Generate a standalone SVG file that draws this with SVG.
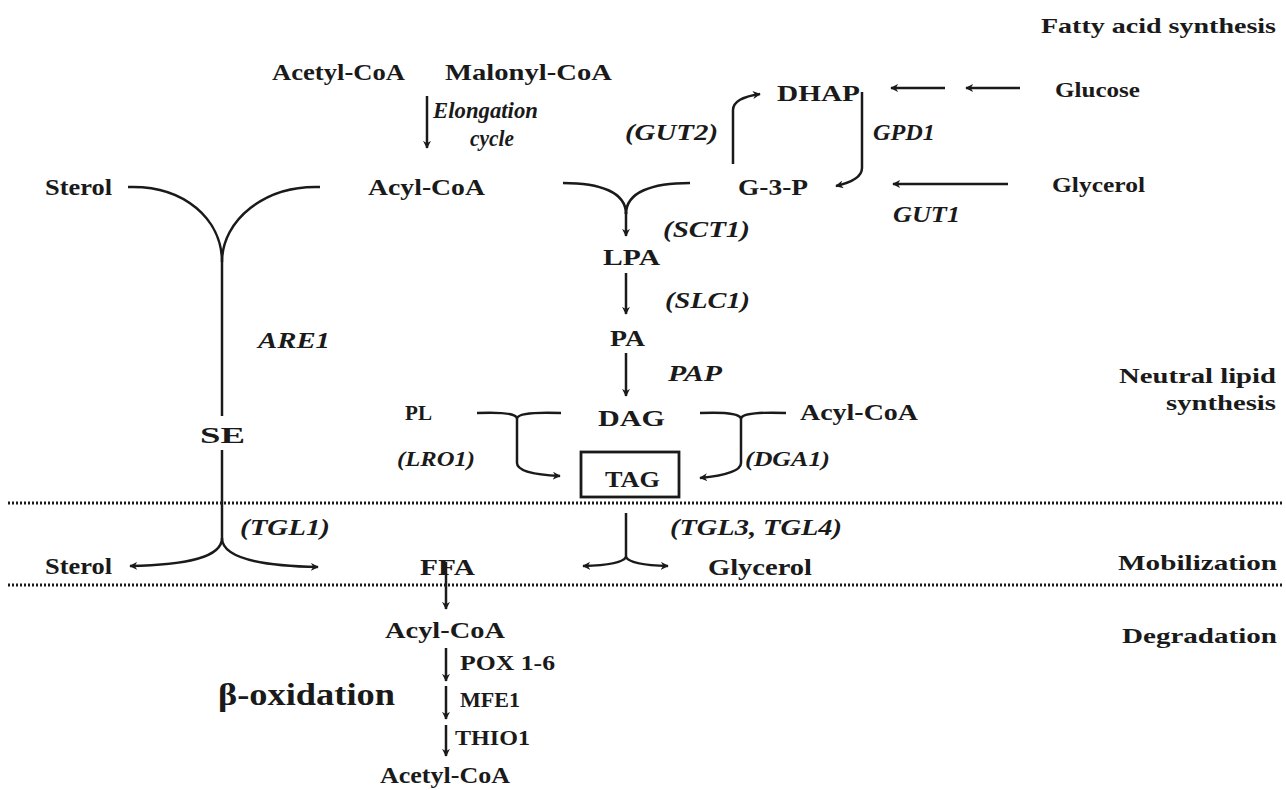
<svg xmlns="http://www.w3.org/2000/svg" width="1286" height="790" viewBox="0 0 1286 790">
<defs>
<marker id="ah" viewBox="0 0 10 10" refX="9" refY="5" markerWidth="8" markerHeight="8" orient="auto" markerUnits="userSpaceOnUse">
<path d="M0,0 L10,5 L0,10 L3,5 Z" fill="#1a1a1a"/>
</marker>
</defs>
<style>
text{font-family:"Liberation Serif","Times New Roman",serif;font-weight:bold;fill:#1a1a1a;}
.n{font-size:24px;}
.e{font-size:23px;font-style:italic;}
.s{font-size:21px;}
.r{font-size:22px;text-anchor:end;}
.c{stroke:#1a1a1a;stroke-width:2.5;fill:none;}
.a{stroke:#1a1a1a;stroke-width:2.5;fill:none;marker-end:url(#ah);}
.d{stroke:#1a1a1a;stroke-width:3;stroke-dasharray:2 2;fill:none;}
</style>
<rect width="1286" height="790" fill="#fff"/>

<g id="regions">
<line class="d" x1="8" y1="503" x2="1284" y2="503"/>
<line class="d" x1="8" y1="585" x2="1284" y2="585"/>
<text class="r" x="1276" y="33" textLength="235" lengthAdjust="spacingAndGlyphs">Fatty acid synthesis</text>
<text class="r" x="1276" y="383" textLength="157" lengthAdjust="spacingAndGlyphs">Neutral lipid</text>
<text class="r" x="1276" y="410" textLength="110" lengthAdjust="spacingAndGlyphs">synthesis</text>
<text class="r" x="1277" y="570" textLength="159" lengthAdjust="spacingAndGlyphs">Mobilization</text>
<text class="r" x="1277" y="643" textLength="155" lengthAdjust="spacingAndGlyphs">Degradation</text>
</g>

<g id="connectors">
<line class="a" x1="427" y1="96" x2="427" y2="148"/>
<line class="a" x1="945" y1="88" x2="891" y2="88"/>
<line class="a" x1="1020" y1="88" x2="966" y2="88"/>
<path class="a" d="M733,164 L733,110 Q733,98 760,94"/>
<path class="a" d="M862,92 L862,168 Q862,180 836,186"/>
<line class="a" x1="1008" y1="184" x2="893" y2="184"/>
<path class="c" d="M128,187 C185,185 222,220 222,262"/>
<path class="c" d="M320,187 C265,185 222,220 222,262"/>
<line class="c" x1="222" y1="262" x2="222" y2="416"/>
<line class="c" x1="222" y1="450" x2="222" y2="538"/>
<path class="a" d="M222,538 C222,558 185,565 130,566"/>
<path class="a" d="M222,538 C222,558 262,566 318,567"/>
<path class="c" d="M563,183 C600,183 626,192 626,214"/>
<path class="c" d="M690,183 C652,183 626,192 626,214"/>
<line class="a" x1="626" y1="212" x2="626" y2="236"/>
<line class="a" x1="626" y1="273" x2="626" y2="314"/>
<line class="a" x1="626" y1="353" x2="626" y2="396"/>
<path class="c" d="M477,413 C500,412 515,413 517,418 C519,413 535,412 561,413"/>
<path class="a" d="M517,418 L517,463 Q517,474 560,476"/>
<path class="c" d="M700,413 C722,412 738,413 741,418 C744,413 760,412 786,413"/>
<path class="a" d="M741,418 L741,463 Q741,474 700,478"/>
<line class="c" x1="626" y1="513" x2="626" y2="557"/>
<path class="a" d="M626,557 Q622,565 583,566"/>
<path class="a" d="M626,557 Q630,565 668,566"/>
<line class="a" x1="446" y1="562" x2="446" y2="609"/>
<line class="a" x1="446" y1="648" x2="446" y2="681"/>
<line class="a" x1="446" y1="686" x2="446" y2="719"/>
<line class="a" x1="446" y1="725" x2="446" y2="756"/>
</g>

<g id="acetylcoa-top"><text class="n" x="272" y="80" textLength="133" lengthAdjust="spacingAndGlyphs">Acetyl-CoA</text></g>
<g id="malonylcoa"><text class="n" x="445" y="80" textLength="167" lengthAdjust="spacingAndGlyphs">Malonyl-CoA</text></g>
<g id="elongation"><text class="e" x="433" y="118" textLength="105" lengthAdjust="spacingAndGlyphs">Elongation</text><text class="e" x="470" y="146" textLength="44" lengthAdjust="spacingAndGlyphs">cycle</text></g>
<g id="dhap"><text class="n" x="777" y="101" textLength="83" lengthAdjust="spacingAndGlyphs">DHAP</text></g>
<g id="glucose"><text class="s" x="1055" y="97" textLength="85" lengthAdjust="spacingAndGlyphs">Glucose</text></g>
<g id="gut2"><text class="e" x="625" y="140" textLength="93" lengthAdjust="spacingAndGlyphs">(GUT2)</text></g>
<g id="gpd1"><text class="e" x="873" y="140" textLength="62" lengthAdjust="spacingAndGlyphs">GPD1</text></g>
<g id="g3p"><text class="n" x="738" y="195" textLength="70" lengthAdjust="spacingAndGlyphs">G-3-P</text></g>
<g id="glycerol-top"><text class="s" x="1052" y="192" textLength="93" lengthAdjust="spacingAndGlyphs">Glycerol</text></g>
<g id="gut1"><text class="e" x="893" y="222" textLength="67" lengthAdjust="spacingAndGlyphs">GUT1</text></g>
<g id="sterol-top"><text class="n" x="45" y="195" textLength="67" lengthAdjust="spacingAndGlyphs">Sterol</text></g>
<g id="acylcoa-top"><text class="n" x="368" y="195" textLength="117" lengthAdjust="spacingAndGlyphs">Acyl-CoA</text></g>
<g id="sct1"><text class="e" x="663" y="237" textLength="87" lengthAdjust="spacingAndGlyphs">(SCT1)</text></g>
<g id="lpa"><text class="n" x="603" y="265" textLength="57" lengthAdjust="spacingAndGlyphs">LPA</text></g>
<g id="slc1"><text class="e" x="665" y="308" textLength="85" lengthAdjust="spacingAndGlyphs">(SLC1)</text></g>
<g id="pa"><text class="n" x="610" y="346" textLength="35" lengthAdjust="spacingAndGlyphs">PA</text></g>
<g id="pap"><text class="e" x="668" y="381" textLength="54" lengthAdjust="spacingAndGlyphs">PAP</text></g>
<g id="are1"><text class="e" x="258" y="348" textLength="72" lengthAdjust="spacingAndGlyphs">ARE1</text></g>
<g id="dag"><text class="n" x="598" y="426" textLength="67" lengthAdjust="spacingAndGlyphs">DAG</text></g>
<g id="pl"><text class="s" x="405" y="420" textLength="27" lengthAdjust="spacingAndGlyphs">PL</text></g>
<g id="lro1"><text class="e" x="397" y="466" textLength="78" lengthAdjust="spacingAndGlyphs" style="font-size:20px">(LRO1)</text></g>
<g id="acylcoa-mid"><text class="n" x="800" y="420" textLength="118" lengthAdjust="spacingAndGlyphs">Acyl-CoA</text></g>
<g id="dga1"><text class="e" x="745" y="466" textLength="85" lengthAdjust="spacingAndGlyphs" style="font-size:20px">(DGA1)</text></g>
<g id="se"><text class="n" x="200" y="443" textLength="45" lengthAdjust="spacingAndGlyphs">SE</text></g>
<g id="tag"><rect x="581" y="452" width="98" height="45" fill="none" stroke="#1a1a1a" stroke-width="2.8"/><text class="n" x="605" y="487" textLength="55" lengthAdjust="spacingAndGlyphs">TAG</text></g>
<g id="tgl1"><text class="e" x="240" y="535" textLength="90" lengthAdjust="spacingAndGlyphs">(TGL1)</text></g>
<g id="tgl34"><text class="e" x="670" y="535" textLength="172" lengthAdjust="spacingAndGlyphs">(TGL3, TGL4)</text></g>
<g id="sterol-bottom"><text class="n" x="45" y="574" textLength="67" lengthAdjust="spacingAndGlyphs">Sterol</text></g>
<g id="ffa"><text class="n" x="420" y="575" textLength="55" lengthAdjust="spacingAndGlyphs">FFA</text></g>
<g id="glycerol-bottom"><text class="n" x="708" y="575" textLength="104" lengthAdjust="spacingAndGlyphs">Glycerol</text></g>
<g id="acylcoa-bottom"><text class="n" x="385" y="638" textLength="120" lengthAdjust="spacingAndGlyphs">Acyl-CoA</text></g>
<g id="pox"><text class="s" x="460" y="670" textLength="95" lengthAdjust="spacingAndGlyphs">POX 1-6</text></g>
<g id="boxidation"><text x="218" y="705" style="font-size:31px" textLength="177" lengthAdjust="spacingAndGlyphs">β-oxidation</text></g>
<g id="mfe1"><text class="s" x="460" y="707" textLength="60" lengthAdjust="spacingAndGlyphs">MFE1</text></g>
<g id="thio1"><text class="s" x="455" y="745" textLength="75" lengthAdjust="spacingAndGlyphs">THIO1</text></g>
<g id="acetylcoa-bottom"><text class="n" x="380" y="783" textLength="130" lengthAdjust="spacingAndGlyphs">Acetyl-CoA</text></g>
</svg>
